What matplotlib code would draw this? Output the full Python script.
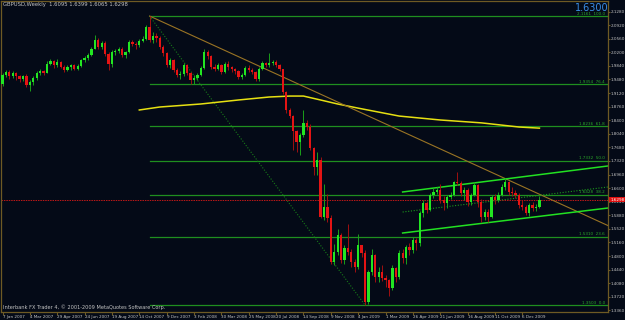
import matplotlib.pyplot as plt
from matplotlib.transforms import blended_transform_factory

# weekly GBPUSD candles, 7 Jan 2007 .. Dec 2009
opens = [1.9350, 1.9600, 1.9680, 1.9560, 1.9640, 1.9560, 1.9480, 1.9560, 1.9330, 1.9420,
         1.9520, 1.9640, 1.9700, 1.9660, 1.9900, 1.9960, 1.9860, 1.9950, 1.9820, 1.9740,
         1.9800, 1.9850, 1.9760, 1.9840, 1.9990, 2.0050, 2.0130, 2.0300, 2.0520, 2.0350,
         2.0450, 2.0150, 1.9880, 2.0200, 2.0230, 2.0300, 2.0120, 2.0200, 2.0480, 2.0420,
         2.0380, 2.0500, 2.0560, 2.0880, 2.0520, 2.0630, 2.0580, 2.0340, 2.0180, 1.9860,
         1.9990, 1.9730, 1.9600, 1.9620, 1.9860, 1.9650, 1.9470, 1.9520, 1.9600, 1.9790,
         2.0210, 2.0100, 1.9810, 1.9760, 1.9850, 1.9680, 1.9900, 1.9810, 1.9750, 1.9700,
         1.9550, 1.9600, 1.9790, 1.9740, 1.9680, 1.9500, 1.9760, 1.9910, 1.9850, 1.9920,
         1.9950, 1.9850, 1.9750, 1.9150, 1.8670, 1.8510, 1.8110, 1.7820, 1.8000, 1.8320,
         1.8220, 1.7670, 1.7160, 1.7350, 1.5840, 1.6100, 1.5810, 1.4640, 1.4910, 1.5360,
         1.4700, 1.5010, 1.4900, 1.4640, 1.4510, 1.5090, 1.4880, 1.3580, 1.4380, 1.4830,
         1.4240, 1.4380, 1.4220, 1.4170, 1.3960, 1.4480, 1.4240, 1.4880, 1.4750, 1.5040,
         1.4960, 1.5220, 1.5140, 1.5940, 1.6210, 1.6020, 1.6420, 1.6500, 1.6550, 1.6280,
         1.6210, 1.6370, 1.6420, 1.6760, 1.6730, 1.6470, 1.6550, 1.6230, 1.6420, 1.6680,
         1.6230, 1.5840, 1.5970, 1.5840, 1.6360, 1.6290, 1.6420, 1.6630, 1.6760, 1.6500,
         1.6470, 1.6420, 1.6150, 1.6100, 1.5940, 1.6150, 1.6070, 1.6095]
closes = [1.9600, 1.9680, 1.9560, 1.9640, 1.9560, 1.9480, 1.9560, 1.9330, 1.9420, 1.9520,
          1.9640, 1.9700, 1.9660, 1.9900, 1.9960, 1.9860, 1.9950, 1.9820, 1.9740, 1.9800,
          1.9850, 1.9760, 1.9840, 1.9990, 2.0050, 2.0130, 2.0300, 2.0520, 2.0350, 2.0450,
          2.0150, 1.9880, 2.0200, 2.0230, 2.0300, 2.0120, 2.0200, 2.0480, 2.0420, 2.0380,
          2.0500, 2.0560, 2.0880, 2.0520, 2.0630, 2.0580, 2.0340, 2.0180, 1.9860, 1.9990,
          1.9730, 1.9600, 1.9620, 1.9860, 1.9650, 1.9470, 1.9520, 1.9600, 1.9790, 2.0210,
          2.0100, 1.9810, 1.9760, 1.9850, 1.9680, 1.9900, 1.9810, 1.9750, 1.9700, 1.9550,
          1.9600, 1.9790, 1.9740, 1.9680, 1.9500, 1.9760, 1.9910, 1.9850, 1.9920, 1.9950,
          1.9850, 1.9750, 1.9150, 1.8670, 1.8510, 1.8110, 1.7820, 1.8000, 1.8320, 1.8220,
          1.7670, 1.7160, 1.7350, 1.5840, 1.6100, 1.5810, 1.4640, 1.4910, 1.5360, 1.4700,
          1.5010, 1.4900, 1.4640, 1.4510, 1.5090, 1.4880, 1.3580, 1.4380, 1.4830, 1.4240,
          1.4380, 1.4220, 1.4170, 1.3960, 1.4480, 1.4240, 1.4880, 1.4750, 1.5040, 1.4960,
          1.5220, 1.5140, 1.5940, 1.6210, 1.6020, 1.6420, 1.6500, 1.6550, 1.6280, 1.6210,
          1.6370, 1.6420, 1.6760, 1.6730, 1.6470, 1.6550, 1.6230, 1.6420, 1.6680, 1.6230,
          1.5840, 1.5970, 1.5840, 1.6360, 1.6290, 1.6420, 1.6630, 1.6760, 1.6500, 1.6470,
          1.6420, 1.6150, 1.6100, 1.5940, 1.6150, 1.6070, 1.6095, 1.6298]
highs = [1.9660, 1.9740, 1.9720, 1.9700, 1.9690, 1.9600, 1.9610, 1.9620, 1.9460, 1.9560,
         1.9700, 1.9760, 1.9740, 1.9960, 2.0030, 1.9990, 2.0010, 1.9980, 1.9850, 1.9850,
         1.9900, 1.9880, 1.9880, 2.0030, 2.0100, 2.0170, 2.0340, 2.0660, 2.0580, 2.0500,
         2.0490, 2.0200, 2.0260, 2.0290, 2.0350, 2.0340, 2.0240, 2.0530, 2.0520, 2.0470,
         2.0560, 2.0620, 2.0930, 2.1161, 2.0740, 2.0700, 2.0640, 2.0400, 2.0220, 2.0050,
         2.0010, 1.9780, 1.9710, 1.9910, 1.9900, 1.9690, 1.9600, 1.9650, 1.9830, 2.0300,
         2.0250, 2.0140, 1.9880, 1.9920, 1.9890, 1.9950, 1.9960, 1.9840, 1.9790, 1.9740,
         1.9660, 1.9830, 1.9850, 1.9780, 1.9700, 1.9800, 1.9960, 1.9950, 2.0180, 2.0000,
         1.9990, 1.9880, 1.9770, 1.9180, 1.8720, 1.8550, 1.8150, 1.8050, 1.8680, 1.8400,
         1.8300, 1.7700, 1.7550, 1.7420, 1.6700, 1.6450, 1.5880, 1.5120, 1.5530, 1.5420,
         1.5100, 1.5650, 1.5000, 1.4720, 1.5380, 1.5100, 1.4950, 1.4420, 1.5000, 1.4850,
         1.4500, 1.4560, 1.4300, 1.4200, 1.4560, 1.4520, 1.4950, 1.4980, 1.5100, 1.5150,
         1.5300, 1.5280, 1.6000, 1.6280, 1.6250, 1.6480, 1.6600, 1.6620, 1.6700, 1.6380,
         1.6420, 1.6500, 1.6800, 1.7030, 1.6780, 1.6620, 1.6600, 1.6480, 1.6760, 1.6720,
         1.6300, 1.6050, 1.6050, 1.6420, 1.6440, 1.6500, 1.6700, 1.6880, 1.6800, 1.6620,
         1.6560, 1.6480, 1.6280, 1.6160, 1.6200, 1.6240, 1.6180, 1.6399]
lows = [1.9310, 1.9540, 1.9500, 1.9520, 1.9460, 1.9420, 1.9440, 1.9280, 1.9180, 1.9330,
        1.9460, 1.9600, 1.9600, 1.9640, 1.9860, 1.9790, 1.9820, 1.9780, 1.9690, 1.9700,
        1.9740, 1.9720, 1.9730, 1.9810, 1.9950, 2.0000, 2.0100, 2.0280, 2.0300, 2.0290,
        2.0100, 1.9740, 1.9820, 2.0120, 2.0180, 2.0070, 2.0060, 2.0170, 2.0360, 2.0300,
        2.0340, 2.0460, 2.0530, 2.0480, 2.0450, 2.0480, 2.0280, 2.0100, 1.9800, 1.9780,
        1.9680, 1.9540, 1.9480, 1.9560, 1.9600, 1.9360, 1.9360, 1.9460, 1.9560, 1.9760,
        2.0030, 1.9760, 1.9700, 1.9720, 1.9620, 1.9640, 1.9740, 1.9690, 1.9630, 1.9490,
        1.9500, 1.9560, 1.9690, 1.9620, 1.9440, 1.9450, 1.9720, 1.9800, 1.9800, 1.9860,
        1.9800, 1.9700, 1.9100, 1.8600, 1.8460, 1.7600, 1.7550, 1.7480, 1.7950, 1.8150,
        1.7600, 1.6950, 1.6960, 1.5800, 1.5760, 1.5700, 1.4600, 1.4560, 1.4840, 1.4620,
        1.4600, 1.4840, 1.4500, 1.4380, 1.4450, 1.4780, 1.3503, 1.3520, 1.4300, 1.4100,
        1.4120, 1.4150, 1.3980, 1.3740, 1.3900, 1.4100, 1.4200, 1.4620, 1.4600, 1.4840,
        1.4880, 1.4950, 1.5080, 1.5830, 1.5940, 1.5990, 1.6340, 1.6440, 1.6200, 1.6020,
        1.6080, 1.6300, 1.6380, 1.6680, 1.6400, 1.6280, 1.6120, 1.6150, 1.6380, 1.6100,
        1.5700, 1.5750, 1.5700, 1.5800, 1.6180, 1.6220, 1.6380, 1.6560, 1.6430, 1.6400,
        1.6350, 1.6070, 1.6030, 1.5880, 1.5850, 1.6000, 1.6000, 1.6065]

date_labels = ["7 Jan 2007", "4 Mar 2007", "29 Apr 2007", "24 Jun 2007", "19 Aug 2007",
               "14 Oct 2007", "9 Dec 2007", "3 Feb 2008", "30 Mar 2008", "25 May 2008",
               "20 Jul 2008", "14 Sep 2008", "9 Nov 2008", "4 Jan 2009", "1 Mar 2009",
               "26 Apr 2009", "21 Jun 2009", "16 Aug 2009", "11 Oct 2009", "6 Dec 2009"]
price_ticks = [1.3360, 1.3720, 1.4080, 1.4440, 1.4800, 1.5160, 1.5520, 1.5880, 1.6240,
               1.6600, 1.6960, 1.7320, 1.7680, 1.8040, 1.8400, 1.8760, 1.9120, 1.9480,
               1.9840, 2.0200, 2.0560, 2.0920, 2.1280]

# fibonacci retracement, high (bar 43) to low (bar 106)
fib_high, fib_low = 2.1161, 1.3503
fib_start, fib_end = 43, 106
fib_levels = [0.0, 23.6, 38.2, 50.0, 61.8, 76.4, 100.0]

# moving average (yellow)
ma_bars = [40, 46, 58, 69, 78, 84, 88, 93, 98, 104, 116, 128, 140, 151, 157]
ma_vals = [1.8671, 1.8750, 1.8830, 1.8936, 1.9015, 1.9040, 1.9040, 1.8936, 1.8830,
           1.8720, 1.8510, 1.8406, 1.8330, 1.8220, 1.8190]

# trend line and channel (bar, price) end points
trend = [(43, 2.1161), (177, 1.5610)]
chan_up = [(117, 1.6498), (177, 1.7187)]
chan_mid = [(117, 1.5967), (177, 1.6630)]
chan_lo = [(117, 1.5411), (177, 1.6073)]
last_price = 1.6298

bg = '#040a17'
frame = '#6e5a24'
txt = '#c4c4c4'
fgreen = '#1f8f1f'
small = 3.0

fig = plt.figure(figsize=(6.25, 3.2), dpi=100, facecolor=bg)
ax = fig.add_axes([1 / 625, 8 / 320, 607 / 625, 311 / 320], facecolor=bg)
ax.set_xlim(-0.44, 177.05)
ax.set_ylim(1.3318, 2.1559)

# fib levels
for lv in fib_levels:
    p = fib_low + (fib_high - fib_low) * lv / 100
    ax.plot([fib_start, 177.05], [p, p], color=fgreen, lw=0.9, zorder=1)
    ax.text(176.2, p + 0.001, "%.4f  %.1f" % (p, lv), color='#2aa82a', fontsize=small,
            ha='right', va='bottom', zorder=5)
ax.plot([fib_start, fib_end], [fib_high, fib_low], color='#177a17', lw=0.8,
        ls=(0, (1, 1.5)), zorder=1)

ax.axhline(last_price, color='#c01818', lw=0.7, ls=(0, (1.5, 1)), zorder=1)

ax.plot(ma_bars, ma_vals, color='#e6e012', lw=1.1, zorder=2)
ax.plot(*zip(*trend), color='#9a7424', lw=0.8, zorder=2)
ax.plot(*zip(*chan_up), color='#22e022', lw=1.1, zorder=2)
ax.plot(*zip(*chan_lo), color='#22e022', lw=1.1, zorder=2)
ax.plot(*zip(*chan_mid), color='#1c9a1c', lw=0.8, ls=(0, (1, 1.5)), zorder=2)

# candles
for i in range(len(closes)):
    o, h, l, c = opens[i], highs[i], lows[i], closes[i]
    col = '#22e622' if c >= o else '#e41414'
    wcol = '#1aa01a' if c >= o else '#a01010'
    ax.vlines(i, l, h, color=wcol, lw=0.7, zorder=3)
    hgt = c - o if abs(c - o) > 0.0008 else 0.0008
    ax.bar(i, hgt, bottom=o, width=0.66, color=col, linewidth=0, zorder=4)

for s in ax.spines.values():
    s.set_color(frame)
    s.set_linewidth(0.9)

ax.set_xticks(range(0, 8 * len(date_labels), 8))
ax.set_xticklabels(date_labels, ha='left')
ax.tick_params(axis='x', colors=frame, labelcolor=txt, labelsize=small, length=2,
               pad=0.4, direction='out')
ax.yaxis.tick_right()
ax.set_yticks(price_ticks)
ax.set_yticklabels(["%.4f" % p for p in price_ticks])
ax.tick_params(axis='y', colors=frame, labelcolor=txt, labelsize=small, length=1.5, pad=0.5)

tr = blended_transform_factory(ax.transAxes, ax.transData)
ax.text(1.0035, last_price, "%.4f" % last_price, transform=tr, color='white',
        fontsize=small, va='center', ha='left', zorder=6,
        bbox=dict(facecolor='#e01010', edgecolor='none', pad=0.5))

ax.text(0.004, 0.997, "GBPUSD,Weekly  1.6095 1.6399 1.6065 1.6298", transform=ax.transAxes,
        color=txt, fontsize=3.8, ha='left', va='top')
ax.text(0.003, 0.005, "Interbank FX Trader 4, \u00a9 2001-2009 MetaQuotes Software Corp.",
        transform=ax.transAxes, color=txt, fontsize=3.6, ha='left', va='bottom')
ax.text(167.3, 2.1370, "1.6300", color='#3a8ee6', fontsize=7, ha='left', va='center')

fig.savefig('out.png', dpi=100, facecolor=bg)
